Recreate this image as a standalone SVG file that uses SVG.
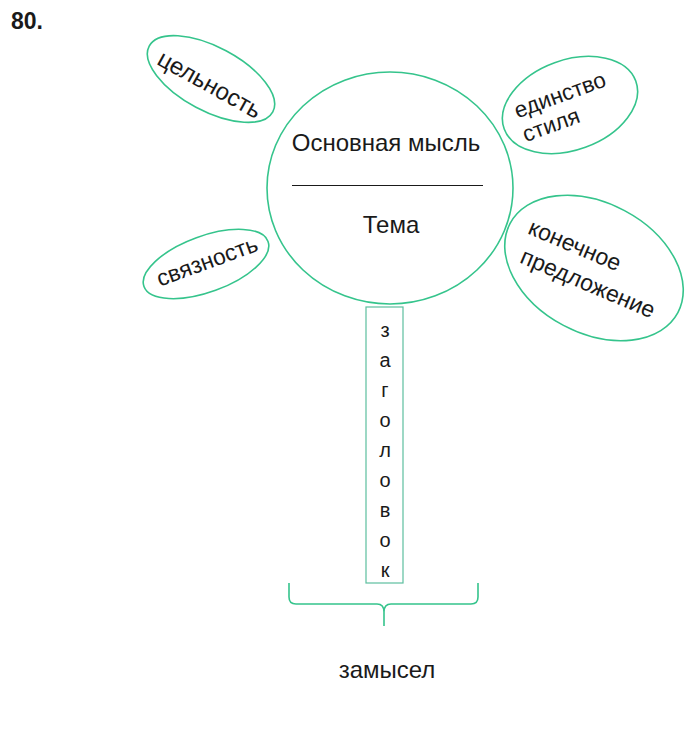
<svg xmlns="http://www.w3.org/2000/svg" width="700" height="729" viewBox="0 0 700 729">
<style>
.sh{fill:none;stroke:#35c48c;stroke-width:1.6}
.t{font-family:"Liberation Sans",Arial,sans-serif;fill:#1a1a1a;text-anchor:middle;dominant-baseline:central}
</style>
<rect width="700" height="729" fill="#fff"/>
<text x="11" y="29" font-family="Liberation Sans,Arial,sans-serif" font-weight="bold" font-size="23" fill="#1a1a1a">80.</text>
<g id="center">
<ellipse class="sh" cx="390" cy="188" rx="123" ry="116"/>
<text class="t" x="386" y="142" font-size="24">Основная мысль</text>
<line x1="292" y1="185.5" x2="483" y2="185.5" stroke="#1a1a1a" stroke-width="1.2"/>
<text class="t" x="391" y="224" font-size="24">Тема</text>
</g>
<g id="celnost">
<ellipse class="sh" cx="211" cy="79" rx="70" ry="32" transform="rotate(28 211 79)"/>
<text class="t" x="210" y="84" font-size="24" transform="rotate(29 210 84)">цельность</text>
</g>
<g id="edinstvo">
<ellipse class="sh" cx="570" cy="105" rx="70" ry="45" transform="rotate(-20 570 105)"/>
<text class="t" x="560" y="95" font-size="22.5" transform="rotate(-20 560 95)">единство</text>
<text class="t" x="551" y="125" font-size="22.5" transform="rotate(-20 551 125)">стиля</text>
</g>
<g id="svyaznost">
<ellipse class="sh" cx="206" cy="264" rx="66" ry="28" transform="rotate(-20 206 264)"/>
<text class="t" x="207" y="261" font-size="23" transform="rotate(-20 207 261)">связность</text>
</g>
<g id="konechnoe">
<ellipse class="sh" cx="594" cy="268" rx="95" ry="65" transform="rotate(28 594 268)"/>
<text class="t" x="575" y="245" font-size="23" transform="rotate(23 575 245)">конечное</text>
<text class="t" x="588" y="283" font-size="23" transform="rotate(23 588 283)">предложение</text>
</g>
<g id="zagolovok">
<rect x="366" y="307" width="37" height="276" fill="none" stroke="#5cbf9e" stroke-width="1.2"/>
<g font-size="20">
<text class="t" x="385" y="330" fill="#333">з</text>
<text class="t" x="385" y="360" fill="#333">а</text>
<text class="t" x="385" y="390" fill="#333">г</text>
<text class="t" x="385" y="420" fill="#333">о</text>
<text class="t" x="385" y="450" fill="#333">л</text>
<text class="t" x="385" y="480" fill="#333">о</text>
<text class="t" x="385" y="510" fill="#333">в</text>
<text class="t" x="385" y="540" fill="#333">о</text>
<text class="t" x="385" y="570" fill="#333">к</text>
</g>
</g>
<g id="connectors">
<path class="sh" d="M289 583 V597 Q289 604 296 604 H377 Q384 604 384 612 V626 M384 612 Q384 604 391 604 H471 Q478 604 478 597 V583" stroke-width="2"/>
</g>
<g id="zamysel">
<text class="t" x="387" y="669" font-size="24">замысел</text>
</g>
</svg>
